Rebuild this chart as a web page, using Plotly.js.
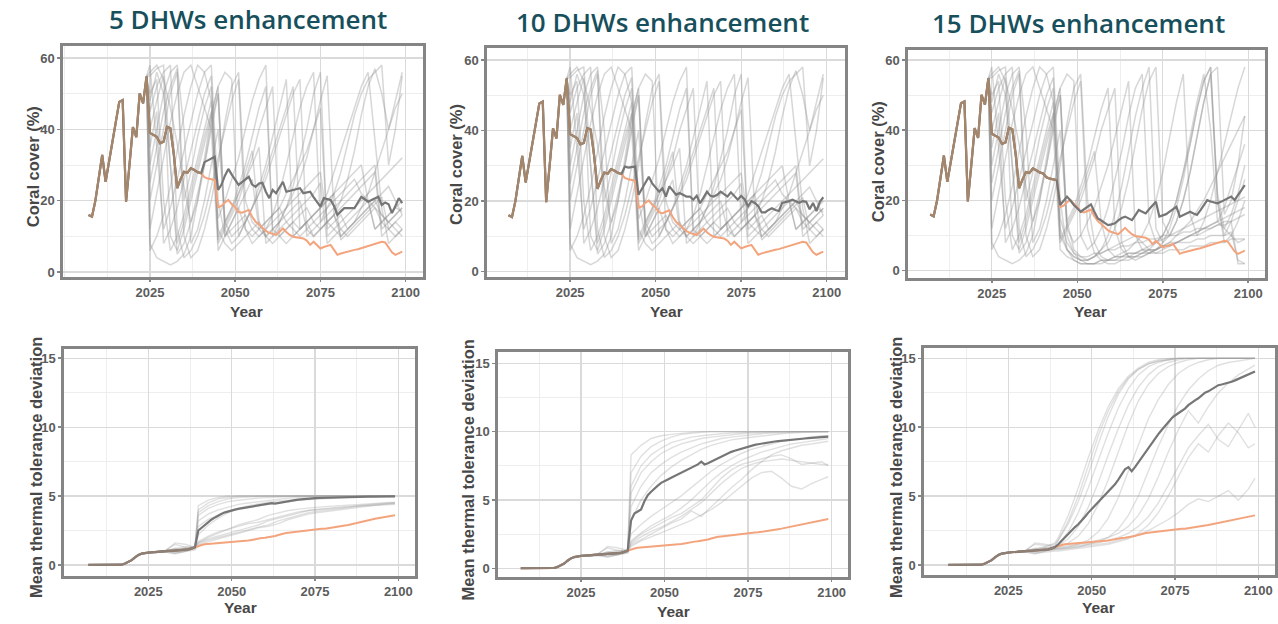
<!DOCTYPE html>
<html><head><meta charset="utf-8">
<script src="https://cdn.plot.ly/plotly-3.0.1.min.js"></script>
<style>html,body{margin:0;padding:0;background:#fff}#chart{width:1278px;height:624px}</style>
</head><body><div id="chart"></div>
<script>
// ---------------- DATA ----------------
const panelTitles = ["5 DHWs enhancement", "10 DHWs enhancement", "15 DHWs enhancement"];
const xTickVals = [2025, 2050, 2075, 2100];
const xTickText = ["2025", "2050", "2075", "2100"];
const xMinorVals = [2000, 2012.5, 2037.5, 2062.5, 2087.5];
const coralTickVals = [0, 20, 40, 60];
const coralTickText = ["0", "20", "40", "60"];
const coralMinorVals = [10, 30, 50];
const thermalTickVals = [0, 5, 10, 15];
const thermalTickText = ["0", "5", "10", "15"];
const thermalMinorVals = [2.5, 7.5, 12.5];
const yTitleCoral = "Coral cover (%)";
const yTitleThermal = "Mean thermal tolerance deviation";
const xTitle = "Year";

const histYears = [2007,2008,2009,2010,2011,2012,2013,2014,2015,2016,2017,2018,2019,2020,2021,2022,2023,2024];
const futureYears = [2025,2026,2027,2028,2029,2030,2031,2032,2033,2034,2035,2036,2037,2038,2039,2040,2041,2042,2043,2044,
 2045,2046,2047,2048,2049,2050,2051,2052,2053,2054,2055,2056,2057,2058,2059,2060,2061,2062,2063,2064,
 2065,2066,2067,2068,2069,2070,2071,2072,2073,2074,2075,2076,2077,2078,2079,2080,2081,2082,2083,2084,
 2085,2086,2087,2088,2089,2090,2091,2092,2093,2094,2095,2096,2097,2098,2099];

// Coral cover history (shared by all panels)
const coralHist = [16,15.5,20,27,32.8,25.3,31,37,43,47.7,48.2,19.7,30,40.6,37.8,50.1,47.3,54.8];

// Coral cover, no enhancement (orange) 2025-2099
const coralOrange = [
 39,38.5,37.9,36.1,36.5,40.7,40.3,33,23.5,26,
 28.1,27.8,29.1,28.6,28,27.7,26.6,26.2,26,25.8,
 18.1,18.5,19.5,20.2,19,18.2,16.8,16.6,17,17.4,
 15.5,14.1,13.3,12.5,11.5,11,10.6,10.4,11.3,12.2,
 11.2,10.4,9.9,9.7,9.6,9.4,8.8,7.6,8.5,7.5,
 6.6,7,7.3,7.6,6.2,4.8,5.2,5.5,5.8,6,
 6.2,6.4,6.7,6.9,7.1,7.5,7.9,8.2,8.5,8.3,
 7,5.5,4.8,5.2,5.7];

// Coral cover, mean with enhancement (dark grey) 2025-2099
const coralMean5 = [
 39,38.5,37.9,36.1,36.5,40.7,40.3,33,23.5,26,
 28.1,27.8,29.1,28.6,28,27.7,30.8,31.3,31.8,32.3,
 23,24.5,27,28.9,27.3,26,24.4,25.2,26,26.7,
 24.5,23.9,24.8,25,22.5,20.7,23,22.1,23.7,25.3,
 22.5,22.8,23,23.3,23.5,22.1,22.3,22.5,21,19.5,
 18.3,20.7,20.5,20.2,18.5,16,17,17.9,17.9,17.9,
 17.9,19.5,21.1,20.4,19.7,20.2,20.6,21.1,18.8,19.5,
 19,16.5,18.5,20.7,19.3];
const coralMean10 = [
 39,38.5,37.9,36.1,36.5,40.7,40.3,33,23.5,26,
 28.1,27.8,29.1,28.6,28,27.7,29.8,29.5,29.6,29.8,
 21.8,23.5,25,26.9,25,23.8,22.7,23.6,21.3,24.2,
 23,21.8,22.3,21.8,21.3,21.3,20.4,21.5,19.4,21,
 22.7,21.5,21.3,21.8,22.7,22,21.3,22.5,21.5,20.4,
 21.5,20.5,18.6,20,19.5,18.6,16.8,16.8,17.5,18,
 17.5,17.2,19.5,19.7,20,20.4,20,19.5,20,19.8,
 17.7,19.5,17.2,19.8,21.1];
const coralMean15 = [
 39,38.5,37.9,36.1,36.5,40.7,40.3,33,23.5,26,
 28.1,27.8,29.1,28.6,28,27.7,26.6,26.2,26,25.8,
 18.7,20,21.1,20,18.7,17.8,16.8,17.5,18.2,18.9,
 16.8,14.9,14.3,13.7,13,13.2,13.5,14.3,15,15.4,
 14.8,14.4,15.8,17.3,16.8,16.3,17.5,18.7,19.6,15.4,
 15.8,16.1,16.8,17.6,18.2,15.4,15.8,16.2,16.8,16.3,
 15.9,17.2,18.7,20.1,19.7,19.4,19.2,19.6,20.1,20.6,
 21.1,20.1,21.5,23.2,24.4];

// Individual coral cover trajectories (light grey), every 2 years
const coralGrayYears = [2025,2027,2029,2031,2033,2035,2037,2039,2041,2043,2045,2047,2049,2051,2053,2055,2057,2059,2061,2063,
 2065,2067,2069,2071,2073,2075,2077,2079,2081,2083,2085,2087,2089,2091,2093,2095,2097,2099];
const coralGrayA1 = [55,57,58,30,8,14,22,30,38,45,10,14,18,22,26,30,35,8,10,12,14,16,18,20,22,25,8,10,12,14,16,18,20,12,14,16,18,17];
const coralGrayA2 = [50,54,20,6,10,16,24,32,40,48,8,12,16,20,26,32,40,46,52,10,12,14,12,14,16,18,20,22,9,11,13,15,17,19,21,12,14,16];
const coralGrayA3 = [45,52,56,58,12,4,6,10,16,24,32,40,48,54,12,10,12,14,16,18,22,26,30,34,40,46,12,14,16,12,14,16,18,20,16,14,12,10];
const coralGrayA4 = [30,40,50,56,58,40,8,12,20,30,40,14,10,12,14,18,22,28,34,40,46,52,12,14,10,12,14,16,18,20,22,24,26,28,10,12,14,12];
const coralGrayA5 = [12,22,32,42,50,56,58,52,46,40,6,10,14,18,22,26,12,14,16,18,14,12,10,12,14,16,18,20,22,24,26,22,20,18,16,14,16,18];
const coralGrayA6 = [8,4,3,2,3,5,10,20,32,44,52,12,8,10,14,18,24,30,38,46,54,10,12,14,16,18,22,28,34,40,46,52,56,36,18,8,10,12];
const coralGrayA7 = [56,58,54,46,36,24,14,20,30,42,50,10,14,18,12,8,10,12,14,16,18,20,22,24,26,28,14,12,10,12,14,16,18,20,22,24,20,16];
const coralGrayA8 = [40,48,55,10,6,12,20,28,36,44,52,56,54,10,14,18,22,26,32,38,44,50,54,10,12,14,16,18,20,22,24,26,28,30,12,14,16,18];
const coralGrayA9 = [20,30,40,50,56,20,28,38,46,52,15,20,26,32,40,48,54,58,10,14,18,22,26,32,40,48,55,16,10,12,14,18,22,28,34,40,46,50];
const coralGrayA10 = [6,10,16,24,34,44,52,58,56,48,12,8,6,8,10,12,14,10,8,10,12,14,16,18,14,12,14,16,12,10,12,14,16,18,14,12,10,12];
const coralGrayA11 = [58,35,12,18,26,34,42,50,56,58,20,10,12,14,16,12,10,12,16,22,30,38,46,52,56,14,18,22,28,36,44,50,54,56,58,30,40,55];
const coralGrayA12 = [35,45,8,12,18,26,34,42,50,55,9,13,17,22,28,34,14,10,12,14,18,24,32,40,50,56,10,12,14,16,18,20,22,24,26,28,30,32];
const coralGrayA13 = [25,35,45,52,57,10,4,6,12,20,30,42,52,56,20,14,12,10,12,14,16,18,20,12,10,12,14,16,20,26,34,44,52,57,50,40,48,56];
const coralGrayA14 = [48,56,50,30,5,8,14,22,30,40,50,14,18,24,30,38,46,52,12,10,8,10,12,14,16,18,20,22,24,26,28,30,20,12,14,16,18,20];

const coralGrayB1 = [55,57,58,30,8,14,22,30,38,45,10,6,4,3,3,4,5,6,7,8,9,10,8,6,5,6,7,8,9,10,11,12,13,14,12,10,8,9];
const coralGrayB2 = [50,54,20,6,10,16,24,32,40,48,8,12,16,20,26,32,40,46,52,8,4,3,4,5,6,7,8,10,12,14,17,20,24,28,32,36,40,44];
const coralGrayB3 = [45,52,56,58,12,4,6,10,16,24,32,40,48,54,12,5,3,2,2,3,3,4,5,5,6,7,8,8,9,10,10,11,12,13,14,14,15,16];
const coralGrayB4 = [30,40,50,56,58,40,8,12,20,30,40,14,6,4,3,4,6,10,16,24,34,44,52,58,12,8,10,14,20,28,38,48,56,20,10,14,20,26];
const coralGrayB5 = [12,22,32,42,50,56,58,52,46,40,6,4,3,2,2,2,3,3,4,4,5,5,6,6,6,7,7,8,8,8,9,9,10,10,10,11,3,2];
const coralGrayB6 = [8,4,3,2,3,5,10,20,32,44,52,12,8,10,14,18,24,30,38,46,54,10,6,5,6,8,12,18,26,36,46,54,58,20,8,10,14,20];
const coralGrayB7 = [56,58,54,46,36,24,14,20,30,42,50,10,5,3,2,2,3,3,4,4,5,5,6,7,8,9,10,11,12,13,14,15,16,17,18,19,20,21];
const coralGrayB8 = [40,48,55,10,6,12,20,28,36,44,52,56,54,10,6,8,12,18,26,34,44,52,56,14,8,10,14,20,28,36,46,54,58,22,12,16,22,30];
const coralGrayB9 = [20,30,40,50,56,20,28,38,46,52,15,8,5,4,4,5,5,6,6,7,7,8,8,9,9,10,10,10,11,11,12,12,12,13,13,14,2,2];
const coralGrayB10 = [6,10,16,24,34,44,52,58,56,48,12,6,4,3,3,4,6,8,12,18,26,36,46,54,58,14,10,14,20,28,38,48,56,58,16,20,30,44];
const coralGrayB11 = [58,35,12,18,26,34,42,50,56,58,20,6,3,2,2,2,2,3,3,3,4,4,4,5,5,5,6,6,6,7,7,7,8,8,8,9,9,9];
const coralGrayB12 = [35,45,8,12,18,26,34,42,50,55,9,13,17,22,28,34,14,6,4,5,6,8,10,14,20,28,38,48,56,16,10,14,20,28,36,44,52,58];
const coralGrayB13 = [25,35,45,52,57,10,4,6,12,20,30,42,52,56,20,8,4,3,3,4,4,5,5,6,6,7,7,8,9,10,11,12,13,14,15,16,17,18];
const coralGrayB14 = [48,56,50,30,5,8,14,22,30,40,50,14,18,24,30,38,46,52,12,6,4,4,5,6,8,10,14,20,28,38,48,56,40,14,18,24,30,36];

// Thermal tolerance: shared history 2007-2039
const thermalBase = [0,0,0,0,0,0,0,0,0,0,
 0.02,0.1,0.22,0.35,0.55,0.72,0.82,0.88,0.9,0.92,
 0.95,0.97,1.0,1.0,1.02,1.03,1.05,1.06,1.08,1.1,
 1.13,1.2,1.3];
// 2040-2099 tails
const thermalOrangeTail = [
 1.4,1.45,1.5,1.52,1.55,1.58,1.6,1.6,1.62,1.62,
 1.63,1.65,1.68,1.7,1.75,1.78,1.82,1.88,1.92,1.95,
 1.97,2.0,2.05,2.1,2.18,2.25,2.3,2.33,2.36,2.4,
 2.43,2.46,2.5,2.53,2.56,2.6,2.6,2.62,2.63,2.66,
 2.7,2.74,2.78,2.82,2.86,2.9,2.95,3.0,3.05,3.1,
 3.2,3.25,3.3,3.35,3.4,3.43,3.46,3.5,3.55,3.6];
const thermalMean5Tail = [
 2.5,2.7,2.95,3.15,3.3,3.45,3.6,3.72,3.82,3.9,
 3.97,4.02,4.07,4.11,4.15,4.19,4.23,4.27,4.31,4.35,
 4.4,4.44,4.48,4.45,4.5,4.55,4.6,4.63,4.67,4.7,
 4.74,4.77,4.79,4.81,4.83,4.85,4.86,4.87,4.88,4.89,
 4.9,4.91,4.92,4.92,4.93,4.93,4.94,4.94,4.95,4.95,
 4.95,4.96,4.96,4.96,4.97,4.97,4.97,4.98,4.98,4.98];
const thermalMean10Tail = [
 3.5,4.0,4.15,4.3,4.9,5.35,5.6,5.85,6.05,6.25,
 6.4,6.5,6.62,6.74,6.86,6.98,7.1,7.22,7.34,7.46,
 7.6,7.8,7.6,7.68,7.8,7.95,8.1,8.2,8.3,8.42,
 8.52,8.6,8.68,8.76,8.84,8.9,8.97,9.03,9.08,9.13,
 9.17,9.21,9.25,9.28,9.31,9.34,9.37,9.39,9.41,9.43,
 9.45,9.48,9.5,9.52,9.54,9.56,9.58,9.6,9.62,9.63];
const thermalMean15Tail = [
 1.5,1.75,2.0,2.3,2.55,2.75,2.95,3.2,3.5,3.8,
 4.05,4.3,4.55,4.8,5.05,5.3,5.6,5.85,6.2,6.55,
 6.95,7.1,6.8,7.1,7.45,7.8,8.15,8.5,8.85,9.2,
 9.5,9.8,10.1,10.4,10.65,10.85,11.0,11.15,11.35,11.6,
 11.8,11.95,12.1,12.3,12.5,12.6,12.75,12.9,13.05,13.1,
 13.15,13.2,13.3,13.4,13.5,13.6,13.7,13.8,13.95,14.05];

// Individual thermal tolerance trajectories (light grey)
const thermalGrayYears = [2027,2030,2033,2036,2039,2040,2043,2046,2049,2052,2055,2058,2061,2064,2067,2070,2073,2076,2079,2082,2085,2088,2091,2094,2097,2099];
const th5g1 = [0.95,1.0,1.1,1.2,1.3, 4.3,4.7,4.9,5,5, 5,5,5,5,5, 5,5,5,5,5, 5,5,5,5,5, 5];
const th5g2 = [0.95,1.05,1.5,1.3,1.25, 4.0,4.5,4.8,4.9,5, 5,5,5,5,5, 5,5,5,5,5, 5,5,5,5,5, 5];
const th5g3 = [0.9,0.95,0.8,1.0,1.2, 3.6,4.1,4.4,4.6,4.7, 4.8,4.85,4.9,4.95,5, 5,5,5,5,5, 5,5,5,5,5, 5];
const th5g4 = [0.9,1.0,1.2,1.1,1.3, 3.2,3.7,4.0,4.2,4.4, 4.5,4.6,4.7,4.8,4.85, 4.9,4.95,5,5,5, 5,5,5,5,5, 5];
const th5g5 = [0.95,1.0,0.9,1.0,1.25, 2.8,3.3,3.6,3.9,4.1, 4.2,4.35,4.45,4.55,4.6, 4.7,4.75,4.8,4.85,4.9, 4.9,4.95,4.95,5,5, 5];
const th5g6 = [0.9,1.0,1.1,1.05,1.2, 1.6,1.9,2.1,2.3,2.5, 2.7,2.9,3.2,3.4,3.6, 3.8,3.95,4.05,4.15,4.2, 4.25,4.3,4.35,4.4,4.4, 4.45];
const th5g7 = [0.9,0.95,1.0,1.1,1.2, 1.5,1.8,2.0,2.2,2.4, 2.6,2.75,2.9,3.2,3.4, 3.6,3.8,3.9,4.0,4.1, 4.2,4.25,4.3,4.35,4.4, 4.4];
const th5g8 = [0.95,1.0,1.6,1.5,1.3, 1.6,2.0,2.3,2.6,2.8, 3.0,3.1,3.3,3.5,3.7, 3.85,3.95,4.0,4.1,4.15, 4.2,4.3,4.4,4.45,4.5, 4.5];
const th5g9 = [0.9,0.95,0.85,0.95,1.1, 1.4,1.7,1.9,2.1,2.3, 2.5,2.7,2.8,3.0,3.3, 3.5,3.7,3.8,3.9,4.0, 4.1,4.2,4.3,4.4,4.45, 4.5];
const th5g10 = [0.95,1.0,1.1,1.2,1.3, 3.8,4.3,4.6,4.8,4.9, 4.95,5,5,5,5, 5,5,5,5,5, 5,5,5,5,5, 5];
const th5g11 = [0.9,1.0,1.2,1.3,1.3, 1.7,2.1,2.4,2.6,2.9, 3.1,3.3,3.6,3.8,3.95, 4.05,4.15,4.2,4.25,4.3, 4.35,4.4,4.45,4.5,4.5, 4.55];
const th5g12 = [0.9,0.95,1.0,1.0,1.2, 2.2,2.9,3.4,3.8,4.1, 4.3,4.45,4.55,4.65,4.7, 4.75,4.8,4.85,4.9,4.9, 4.95,4.95,5,5,5, 5];

const th10g1 = [0.95,1.0,1.1,1.2,1.3, 8.3,9.0,9.5,9.7,9.8, 9.9,9.95,10,10,10, 10,10,10,10,10, 10,10,10,10,10, 10];
const th10g2 = [0.95,1.05,1.5,1.3,1.25, 7.0,8.2,8.9,9.3,9.6, 9.8,9.9,9.95,10,10, 10,10,10,10,10, 10,10,10,10,10, 10];
const th10g3 = [0.9,0.95,0.8,1.0,1.2, 5.5,7.0,7.8,8.4,8.8, 9.1,9.3,9.5,9.6,9.7, 9.8,9.85,9.9,9.95,10, 10,10,10,10,10, 10];
const th10g4 = [0.9,1.0,1.2,1.1,1.3, 4.5,6.0,7.0,7.6,8.1, 8.5,8.8,9.1,9.3,9.5, 9.6,9.7,9.8,9.85,9.9, 9.95,10,10,10,10, 10];
const th10g5 = [0.95,1.0,0.9,1.0,1.25, 3.5,5.0,6.0,6.8,7.4, 7.9,8.3,8.7,9.0,9.2, 9.4,9.5,9.6,9.7,9.8, 9.85,9.9,9.95,10,10, 10];
const th10g6 = [0.9,1.0,1.1,1.05,1.2, 1.8,2.3,2.7,3.0,3.4, 3.8,4.3,4.8,5.5,6.2, 6.8,7.3,7.6,7.8,7.9, 8.0,7.9,7.8,7.7,7.6, 7.6];
const th10g7 = [0.9,0.95,1.0,1.1,1.2, 1.7,2.1,2.5,2.9,3.3, 3.6,4.2,3.8,4.5,5.2, 5.9,6.5,7.2,7.8,8.3, 8.6,8.8,9.0,9.1,9.2, 9.3];
const th10g8 = [0.95,1.0,1.6,1.5,1.3, 1.9,2.5,2.9,3.3,3.7, 4.0,4.5,5.0,5.8,6.6, 7.2,7.6,7.8,8.0,8.2, 8.3,8.0,7.6,7.7,7.8, 7.5];
const th10g9 = [0.9,0.95,0.85,0.95,1.1, 1.6,2.0,2.3,2.6,2.9, 3.2,3.5,3.9,4.3,4.8, 5.4,6.0,6.6,7.0,7.1, 6.6,6.0,5.8,6.2,6.5, 6.7];
const th10g10 = [0.95,1.0,1.1,1.2,1.3, 6.0,7.5,8.3,8.8,9.2, 9.4,9.6,9.7,9.8,9.85, 9.9,9.95,10,10,10, 10,10,10,10,10, 10];
const th10g11 = [0.9,1.0,1.2,1.3,1.3, 2.0,2.6,3.1,3.5,3.9, 4.4,5.0,5.7,6.4,7.0, 7.5,7.9,8.2,8.5,8.7, 8.9,9.1,9.2,9.3,9.4, 9.5];
const th10g12 = [0.9,0.95,1.0,1.0,1.2, 2.5,3.2,3.8,4.3,4.8, 5.3,5.9,6.5,7.1,7.6, 8.0,8.4,8.7,8.9,9.1, 9.3,9.4,9.5,9.6,9.7, 9.7];

const th15g1 = [0.95,1.0,1.1,1.3,1.6, 2.0,3.6,5.6,7.8,9.8, 11.5,12.8,13.7,14.3,14.7, 14.9,15,15,15,15, 15,15,15,15,15, 15];
const th15g2 = [0.95,1.05,1.5,1.4,1.5, 1.8,3.0,4.6,6.6,8.8, 10.8,12.4,13.5,14.2,14.6, 14.8,14.9,15,15,15, 15,15,15,15,15, 15];
const th15g3 = [0.9,0.95,0.8,1.0,1.3, 1.5,2.4,3.8,5.6,7.6, 9.6,11.4,12.8,13.8,14.4, 14.7,14.9,15,15,15, 15,15,15,15,15, 15];
const th15g4 = [0.9,1.0,1.2,1.1,1.3, 1.4,1.9,2.8,4.2,6.0, 8.0,9.9,11.6,12.9,13.8, 14.4,14.7,14.9,15,15, 15,15,15,15,15, 15];
const th15g5 = [0.95,1.0,0.9,1.0,1.2, 1.3,1.6,2.1,3.0,4.4, 6.2,8.2,10.2,11.9,13.1, 13.9,14.4,14.7,14.9,15, 15,15,15,15,15, 15];
const th15g6 = [0.9,1.0,1.1,1.05,1.15, 1.2,1.3,1.5,1.8,2.4, 3.4,4.9,6.8,8.8,10.6, 12.0,13.1,13.9,14.4,14.7, 14.9,15,15,15,15, 15];
const th15g7 = [0.9,0.95,1.0,1.1,1.1, 1.15,1.2,1.3,1.5,1.7, 2.0,2.6,3.6,5.0,6.8, 8.6,10.2,11.6,12.7,13.5, 14.1,14.5,14.7,14.8,14.9, 15];
const th15g8 = [0.95,1.0,1.6,1.5,1.3, 1.3,1.4,1.5,1.6,1.8, 2.0,2.3,2.8,3.6,4.8, 6.4,8.2,9.8,11.2,10.3, 11.5,12.5,13.2,13.8,14.2, 14.5];
const th15g9 = [0.9,0.95,0.85,0.95,1.0, 1.0,1.1,1.2,1.3,1.4, 1.5,1.7,1.9,2.3,2.9, 3.8,5.0,6.4,7.8,8.8, 8.2,9.4,10.3,9.6,8.5, 8.8];
const th15g10 = [0.95,1.0,1.1,1.2,1.4, 1.8,3.2,5.0,7.2,9.4, 11.2,12.6,13.6,14.2,14.6, 14.8,14.9,15,15,15, 15,15,15,15,15, 15];
const th15g11 = [0.9,1.0,1.2,1.3,1.2, 1.2,1.3,1.4,1.5,1.6, 1.8,2.0,2.3,2.8,3.5, 4.5,5.8,7.2,8.5,9.4, 10.2,9.1,8.6,9.8,11.0, 10.0];
const th15g12 = [0.9,0.95,1.0,1.0,1.1, 1.1,1.2,1.3,1.4,1.5, 1.6,1.8,2.0,2.2,2.5, 2.9,3.3,3.8,4.4,4.8, 4.6,5.0,5.4,4.7,5.5, 6.3];

// ---------------- BUILD ----------------
const coralGraySetA = [coralGrayA1,coralGrayA2,coralGrayA3,coralGrayA4,coralGrayA5,coralGrayA6,coralGrayA7,coralGrayA8,coralGrayA9,coralGrayA10,coralGrayA11,coralGrayA12,coralGrayA13,coralGrayA14];
const coralGraySetB = [coralGrayB1,coralGrayB2,coralGrayB3,coralGrayB4,coralGrayB5,coralGrayB6,coralGrayB7,coralGrayB8,coralGrayB9,coralGrayB10,coralGrayB11,coralGrayB12,coralGrayB13,coralGrayB14];
const thermalGray5 = [th5g1,th5g2,th5g3,th5g4,th5g5,th5g6,th5g7,th5g8,th5g9,th5g10,th5g11,th5g12];
const thermalGray10 = [th10g1,th10g2,th10g3,th10g4,th10g5,th10g6,th10g7,th10g8,th10g9,th10g10,th10g11,th10g12];
const thermalGray15 = [th15g1,th15g2,th15g3,th15g4,th15g5,th15g6,th15g7,th15g8,th15g9,th15g10,th15g11,th15g12];

const allYears = histYears.concat(futureYears);
const coralOrangeFull = coralHist.concat(coralOrange);
const thermalOrangeFull = thermalBase.concat(thermalOrangeTail);

const C = {
  grayCoral: 'rgba(145,145,145,0.36)',
  grayThermal: 'rgba(160,160,160,0.32)',
  mean: '#767676',
  orange: '#f3a47d',
  brownCoral: '#a3866c',
  brownThermal: '#8f7f74',
  title: '#17505c',
  axisTitle: '#474747',
  tick: '#5c5c5c',
  frame: '#858585',
  gridMajor: '#dadada',
  gridMinor: '#ececec'
};

const panels = [
  {coralMean: coralMean5, coralGray: coralGraySetA, thermalMean: thermalMean5Tail, thermalGray: thermalGray5},
  {coralMean: coralMean10, coralGray: coralGraySetA, thermalMean: thermalMean10Tail, thermalGray: thermalGray10},
  {coralMean: coralMean15, coralGray: coralGraySetB, thermalMean: thermalMean15Tail, thermalGray: thermalGray15}
];

// layout geometry (pixels in the 1278x624 figure)
const W = 1278, H = 624;
const geom = [
  {x0:63, x1:423, y0:46, y1:277, xr:[1999.5,2105.1], yr:[-1.4,63.36]},
  {x0:487, x1:845, y0:48, y1:277, xr:[2000.7,2105.35], yr:[-1.5,63.4]},
  {x0:908, x1:1265, y0:50, y1:278, xr:[2000.5,2104.9], yr:[-2.08,62.85]},
  {x0:64, x1:415, y0:349, y1:576, xr:[1999.7,2105], yr:[-0.8,15.67]},
  {x0:498, x1:848, y0:352, y1:577, xr:[2000.2,2104.9], yr:[-0.64,15.83]},
  {x0:924, x1:1275, y0:348, y1:575, xr:[1999.7,2105], yr:[-0.73,15.75]}
];

function sharedPrefix(xs, a, b) {
  let k = 0;
  while (k < a.length && a[k] === b[k]) k++;
  return {x: xs.slice(0, k), y: a.slice(0, k)};
}

const traces = [];
function line(x, y, axisIdx, color, width) {
  const s = axisIdx === 1 ? '' : String(axisIdx);
  traces.push({type:'scatter', mode:'lines', x:x, y:y, xaxis:'x'+s, yaxis:'y'+s,
    line:{color:color, width:width}, hoverinfo:'skip', showlegend:false});
}

panels.forEach((p, i) => {
  // coral panel
  const ai = i + 1;
  const peakYear = histYears[histYears.length - 1];
  const peakVal = coralHist[coralHist.length - 1];
  p.coralGray.forEach(g => line([peakYear].concat(coralGrayYears), [peakVal].concat(g), ai, C.grayCoral, 1.5));
  const meanFull = coralHist.concat(p.coralMean);
  line(allYears, coralOrangeFull, ai, C.orange, 2);
  line(allYears, meanFull, ai, C.mean, 2.2);
  const sh = sharedPrefix(allYears, coralOrangeFull, meanFull);
  line(sh.x, sh.y, ai, C.brownCoral, 2.2);

  // thermal panel
  const bi = i + 4;
  p.thermalGray.forEach(g => line(thermalGrayYears, g, bi, C.grayThermal, 1.4));
  const tMeanFull = thermalBase.concat(p.thermalMean);
  line(allYears, thermalOrangeFull, bi, C.orange, 2);
  line(allYears, tMeanFull, bi, C.mean, 2.2);
  const tsh = sharedPrefix(allYears, thermalOrangeFull, tMeanFull);
  line(tsh.x, tsh.y, bi, C.brownThermal, 2.2);
});

const tickFont = {family:'Liberation Sans, Arial, sans-serif', size:13, color:C.tick, weight:'bold'};
const layout = {
  width: W, height: H, margin:{l:0,r:0,t:0,b:0},
  paper_bgcolor:'#ffffff', plot_bgcolor:'#ffffff', showlegend:false,
  annotations: []
};

geom.forEach((g, k) => {
  const idx = k + 1, s = idx === 1 ? '' : String(idx);
  const isCoral = k < 3;
  layout['xaxis' + s] = {
    domain:[g.x0 / W, g.x1 / W], range:g.xr, anchor:'y' + s,
    tickmode:'array', tickvals:xTickVals, ticktext:xTickText,
    showgrid:true, gridcolor:C.gridMajor, gridwidth:1.3,
    minor:{tickmode:'array', tickvals:xMinorVals, showgrid:true, gridcolor:C.gridMinor, gridwidth:0.9, ticks:''},
    showline:true, mirror:true, linecolor:C.frame, linewidth:2.6,
    ticks:'outside', ticklen:2, tickwidth:1.5, tickcolor:C.frame,
    zeroline:false, tickfont:tickFont, fixedrange:true
  };
  layout['yaxis' + s] = {
    domain:[1 - g.y1 / H, 1 - g.y0 / H], range:g.yr, anchor:'x' + s,
    tickmode:'array', tickvals:isCoral ? coralTickVals : thermalTickVals, ticktext:isCoral ? coralTickText : thermalTickText,
    showgrid:true, gridcolor:C.gridMajor, gridwidth:1.3,
    minor:{tickmode:'array', tickvals:isCoral ? coralMinorVals : thermalMinorVals, showgrid:true, gridcolor:C.gridMinor, gridwidth:0.9, ticks:''},
    showline:true, mirror:true, linecolor:C.frame, linewidth:2.6,
    ticks:'outside', ticklen:3, tickwidth:1.5, tickcolor:C.frame,
    zeroline:false, tickfont:tickFont, fixedrange:true
  };
});

function ann(text, px, py, opts) {
  layout.annotations.push(Object.assign({text:text, x:px / W, y:1 - py / H, xref:'paper', yref:'paper',
    xanchor:'center', yanchor:'middle', showarrow:false}, opts));
}
const titlePos = [[247.5, 19], [662.5, 22], [1078, 23]];
panelTitles.forEach((t, i) => ann(t, titlePos[i][0], titlePos[i][1],
  {font:{family:'Open Sans, sans-serif', size:26, color:C.title, weight:600}}));

const axFont = {family:'Liberation Sans, Arial, sans-serif', size:16.5, color:C.axisTitle, weight:'bold'};
const yearFont = {family:'Liberation Sans, Arial, sans-serif', size:15.5, color:C.axisTitle, weight:'bold'};
[[32.5, 166.7], [456, 165], [877.5, 161.7]].forEach(p => ann(yTitleCoral, p[0], p[1], {textangle:-90, font:axFont}));
[[36, 468], [467.5, 470], [896, 468]].forEach(p => ann(yTitleThermal, p[0], p[1], {textangle:-90, font:axFont}));
[[246.7, 311], [666.7, 311], [1090, 311], [240, 607], [673, 611], [1098, 607]].forEach(p => ann(xTitle, p[0], p[1], {font:yearFont}));

Plotly.newPlot('chart', traces, layout, {displayModeBar:false, staticPlot:true});
</script>
</body></html>
